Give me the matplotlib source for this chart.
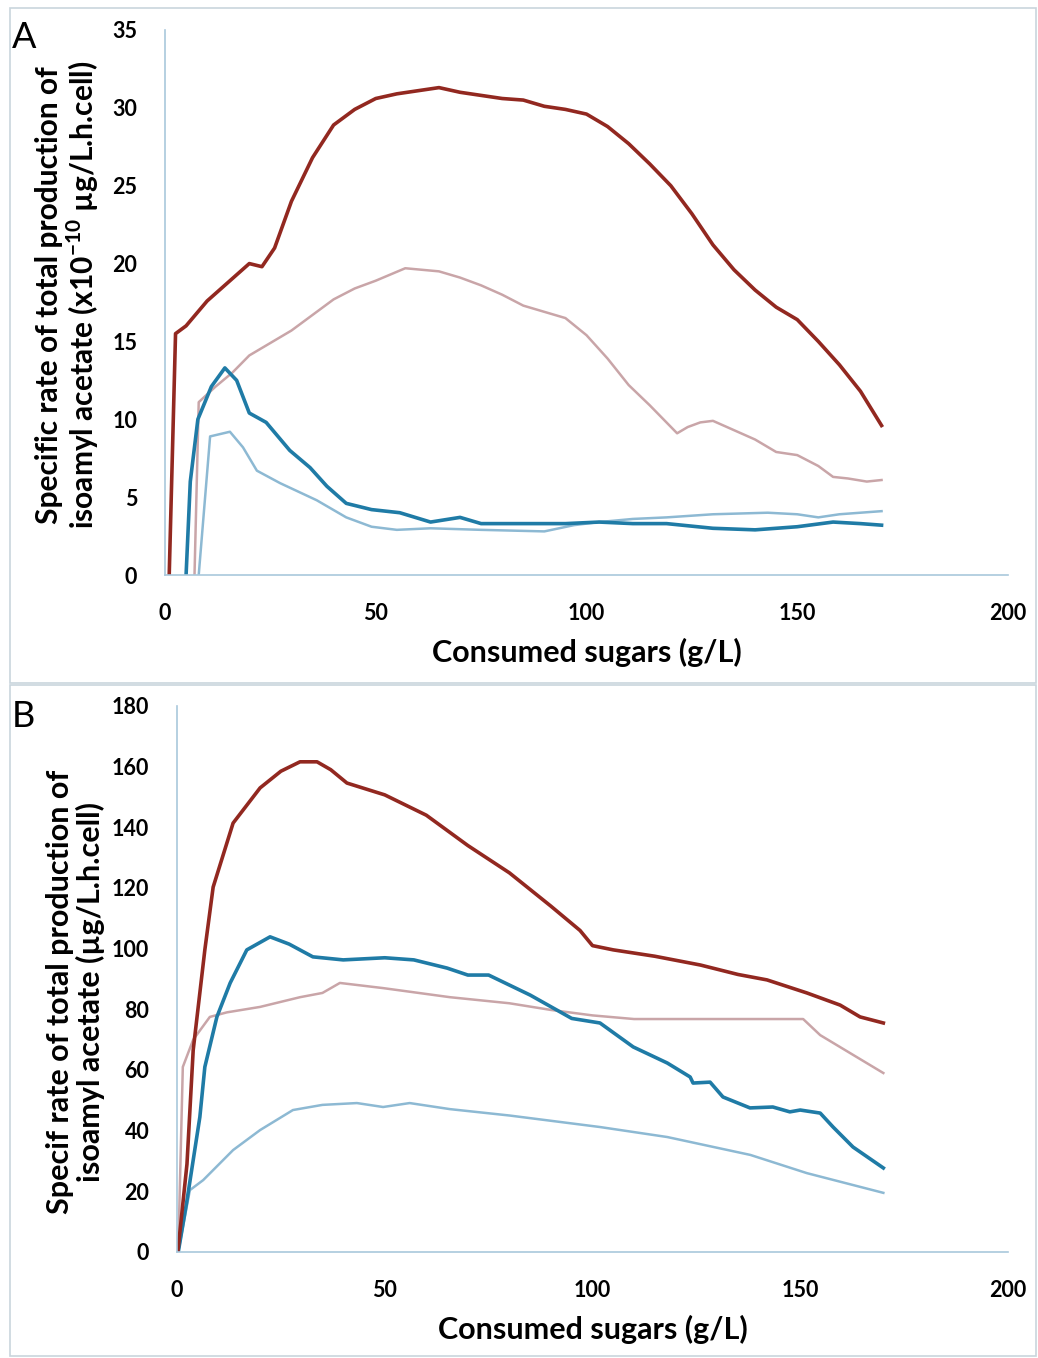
import matplotlib.pyplot as plt
from matplotlib.patches import Rectangle

plt.rcParams['font.family'] = ['Lato', 'DejaVu Sans']
plt.rcParams['mathtext.fontset'] = 'custom'
plt.rcParams['mathtext.rm'] = 'Lato'
plt.rcParams['mathtext.bf'] = 'Lato:bold'

# ---- panel A data (x10^-10 ug/L.h.cell) ----
a_red_x = [1, 2.5, 5, 10, 15, 20, 23, 26, 30, 35, 40, 45, 50, 55, 60, 65, 70, 75, 80, 85,
           90, 95, 100, 105, 110, 115, 120, 125, 130, 135, 140, 145, 150, 155, 160, 165, 170]
a_red_y = [0, 15.5, 16.0, 17.6, 18.8, 20.0, 19.8, 21.0, 24.0, 26.8, 28.9, 29.9, 30.6, 30.9, 31.1,
           31.3, 31.0, 30.8, 30.6, 30.5, 30.1, 29.9, 29.6, 28.8, 27.7, 26.4, 25.0, 23.2, 21.2,
           19.6, 18.3, 17.2, 16.4, 15.0, 13.5, 11.8, 9.6]

a_pink_x = [7, 8, 12, 16, 20, 25, 30, 35, 40, 45, 50, 57, 65, 70, 75, 80, 85, 90, 95, 100, 105,
            110, 115, 121.5, 124, 127, 130, 135, 140, 145, 150, 155, 158.5, 162, 166.5, 170]
a_pink_y = [0, 11.1, 12.1, 13.0, 14.1, 14.9, 15.7, 16.7, 17.7, 18.4, 18.9, 19.7, 19.5, 19.1,
            18.6, 18.0, 17.3, 16.9, 16.5, 15.4, 13.9, 12.2, 10.9, 9.1, 9.5, 9.8, 9.9, 9.3, 8.7,
            7.9, 7.7, 7.0, 6.3, 6.2, 6.0, 6.1]

a_blue_x = [5, 6, 7.8, 11, 14.2, 17, 20, 24, 29.6, 34.4, 38.4, 43, 49, 55.7, 63, 70, 75, 85, 95,
            103, 111, 119, 130, 140, 150, 158.5, 165, 170]
a_blue_y = [0, 6.0, 10.0, 12.1, 13.3, 12.5, 10.4, 9.8, 8.0, 6.9, 5.7, 4.6, 4.2, 4.0, 3.4, 3.7,
            3.3, 3.3, 3.3, 3.4, 3.3, 3.3, 3.0, 2.9, 3.1, 3.4, 3.3, 3.2]

a_lblue_x = [8, 10.7, 15.4, 18.5, 21.8, 27.3, 36, 43, 49, 55, 63, 75, 90, 97, 103, 111, 119, 130,
             143, 150, 155, 160, 165, 170]
a_lblue_y = [0, 8.9, 9.2, 8.2, 6.7, 5.9, 4.8, 3.7, 3.1, 2.9, 3.0, 2.9, 2.8, 3.2, 3.4, 3.6, 3.7,
             3.9, 4.0, 3.9, 3.7, 3.9, 4.0, 4.1]

# ---- panel B data (ug/L.h.cell) ----
b_red_x = [0.2, 2.4, 3.9, 6.7, 8.7, 13.5, 20, 25, 29.6, 33.7, 37, 40.9, 50, 60, 70, 80, 90, 97,
           100, 105, 115, 126, 135, 142, 151.6, 159.6, 164.4, 170]
b_red_y = [0, 29, 66.6, 99.6, 120.3, 141.4, 153, 158.5, 161.6, 161.6, 159, 154.6, 150.7, 144,
           134, 125, 114, 106, 101, 99.6, 97.5, 94.6, 91.5, 89.7, 85.4, 81.4, 77.5, 75.5]

b_blue_x = [0.3, 2.4, 5.5, 6.7, 9.6, 12.8, 16.8, 22.4, 27, 32.7, 40, 50, 57, 65, 70, 75, 85, 95,
            101.8, 109.8, 118, 123.5, 124.2, 128.3, 131.4, 137.9, 143.4, 147.5, 150, 154.8,
            157.9, 162.7, 170]
b_blue_y = [0, 17, 44.5, 61, 77.5, 88.7, 99.6, 103.9, 101.5, 97.3, 96.3, 97, 96.3, 93.6, 91.3,
            91.3, 84.7, 77, 75.5, 67.6, 62.3, 57.7, 55.7, 56, 51.1, 47.5, 47.8, 46.2, 46.8, 45.8,
            41.2, 34.6, 27.7]

b_pink_x = [0.3, 1.4, 3.9, 7.9, 12, 20, 29.6, 35, 39.2, 49.6, 65.7, 80, 90, 100, 110, 130, 150.7,
            154.8, 162.7, 170]
b_pink_y = [0, 61, 70, 77.5, 79, 80.8, 84, 85.4, 88.7, 87, 84, 82, 79.8, 78, 76.8, 76.8, 76.8,
            71.5, 65, 59]

b_lblue_x = [0.3, 3.1, 6.3, 13.5, 20, 27.9, 35, 43.3, 49.6, 56, 65.7, 80, 101.8, 118, 138,
             151.6, 170]
b_lblue_y = [0, 20.4, 23.7, 33.6, 40.2, 46.8, 48.5, 49.1, 47.8, 49.1, 47.1, 45, 41.2, 37.9, 32,
             26, 19.5]

c_red = '#922820'
c_pink = '#c9a5a8'
c_blue = '#1f7ba6'
c_lblue = '#8db9d3'
c_spine = '#a9c8dc'

W, H = 1038, 1358
fig = plt.figure(figsize=(W / 100, H / 100), dpi=100)

# panel frames
for (x0, y0, x1, y1) in [(10, 8, 1036, 683), (10, 685, 1036, 1356)]:
    fig.patches.append(Rectangle((x0 / W, 1 - y1 / H), (x1 - x0) / W, (y1 - y0) / H,
                                 transform=fig.transFigure, fill=False,
                                 edgecolor='#c9d5dd', linewidth=1.2))

axA = fig.add_axes([165 / W, 1 - 575 / H, (1008 - 165) / W, 545 / H])
axB = fig.add_axes([177 / W, 1 - 1252 / H, (1008 - 177) / W, 546 / H])

axA.plot(a_pink_x, a_pink_y, color=c_pink, lw=1.8)
axA.plot(a_lblue_x, a_lblue_y, color=c_lblue, lw=1.8)
axA.plot(a_blue_x, a_blue_y, color=c_blue, lw=2.6)
axA.plot(a_red_x, a_red_y, color=c_red, lw=2.6)

axB.plot(b_pink_x, b_pink_y, color=c_pink, lw=1.8)
axB.plot(b_lblue_x, b_lblue_y, color=c_lblue, lw=1.8)
axB.plot(b_blue_x, b_blue_y, color=c_blue, lw=2.6)
axB.plot(b_red_x, b_red_y, color=c_red, lw=2.6)

for ax, ymax, ystep in [(axA, 35, 5), (axB, 180, 20)]:
    ax.set_xlim(0, 200)
    ax.set_ylim(0, ymax)
    ax.set_xticks(range(0, 201, 50))
    ax.set_yticks(range(0, ymax + 1, ystep))
    for s in ['top', 'right']:
        ax.spines[s].set_visible(False)
    for s in ['left', 'bottom']:
        ax.spines[s].set_color(c_spine)
        ax.spines[s].set_linewidth(1.2)
    ax.tick_params(length=0, labelsize=15.5)
    ax.tick_params(axis='y', pad=20)
    ax.tick_params(axis='x', pad=20)
    for lab in ax.get_xticklabels() + ax.get_yticklabels():
        lab.set_fontweight('bold')
    ax.set_xlabel('Consumed sugars (g/L)', fontsize=22, fontweight='bold', labelpad=10)

axA.set_ylabel('Specific rate of total production of\n'
               'isoamyl acetate (x10$^{\\mathbf{-10}}$ µg/L.h.cell)',
               fontsize=21.5, fontweight='bold', linespacing=1.05)
axA.yaxis.set_label_coords(-0.076, 0.514)
axB.set_ylabel('Specif rate of total production of\nisoamyl acetate (µg/L.h.cell)',
               fontsize=22, fontweight='bold', linespacing=1.05)
axB.yaxis.set_label_coords(-0.087, 0.476)

fig.text(12 / W, 1 - 48 / H, 'A', fontsize=26)
fig.text(12 / W, 1 - 727 / H, 'B', fontsize=26)

fig.savefig('out.png', dpi=100)
